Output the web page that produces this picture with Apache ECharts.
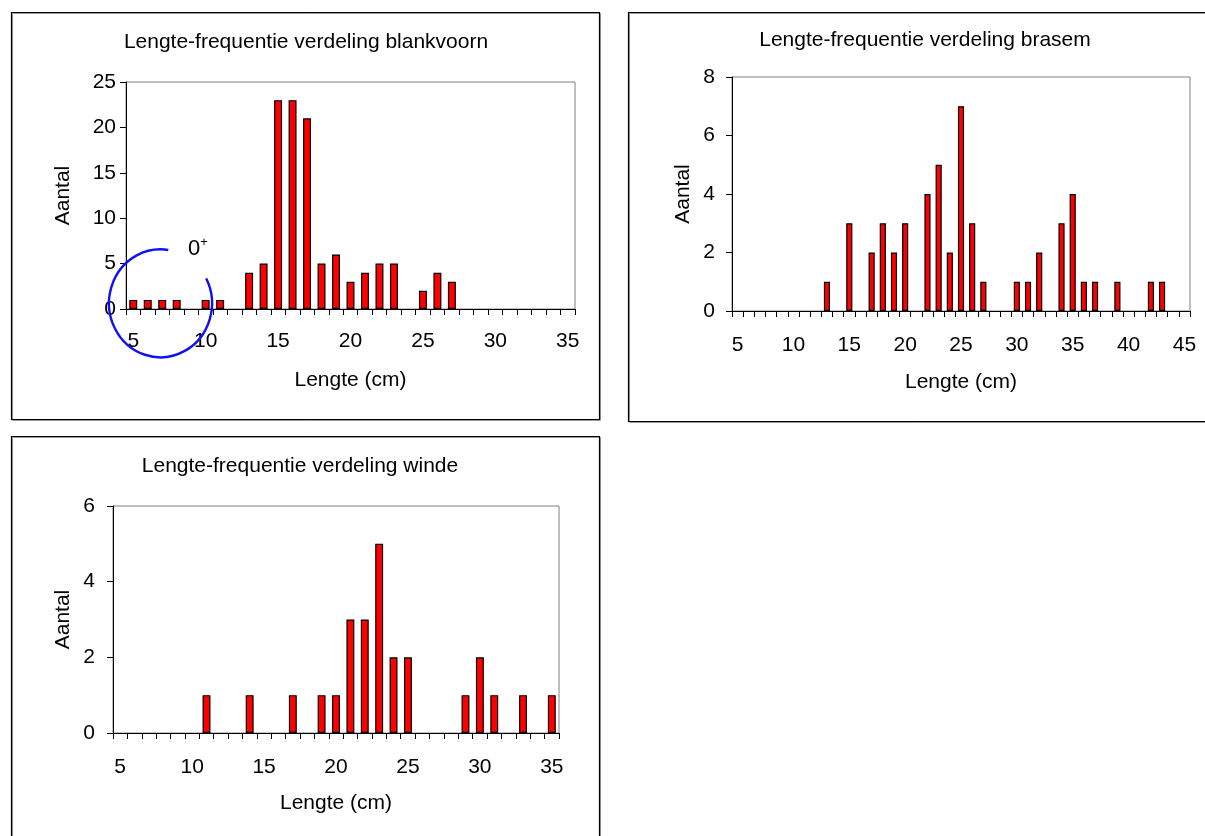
<!DOCTYPE html>
<html>
<head>
<meta charset="utf-8">
<title>Lengte-frequentie verdeling</title>
<script src="https://cdn.jsdelivr.net/npm/echarts@6/dist/echarts.min.js"></script>
<style>
  html, body { margin: 0; padding: 0; background: #fff; }
  #chart { width: 1205px; height: 836px; }
</style>
</head>
<body>
<div id="chart"></div>
<script>
// Lengteklassen (cm) en aantallen per soort
const lengthsBlankvoorn = ['5','6','7','8','9','10','11','12','13','14','15','16','17','18','19','20',
  '21','22','23','24','25','26','27','28','29','30','31','32','33','34','35'];
const countsBlankvoorn = [1,1,1,1,0,1,1,0,4,5,23,23,21,5,6,3,4,5,5,0,2,4,3,0,0,0,0,0,0,0,0];

const lengthsBrasem = ['5','6','7','8','9','10','11','12','13','14','15','16','17','18','19','20',
  '21','22','23','24','25','26','27','28','29','30','31','32','33','34','35','36','37','38','39','40',
  '41','42','43','44','45'];
const countsBrasem = [0,0,0,0,0,0,0,0,1,0,3,0,2,3,2,3,0,4,5,2,7,3,1,0,0,1,1,2,0,3,4,1,1,0,1,0,0,1,1,0,0];

const lengthsWinde = ['5','6','7','8','9','10','11','12','13','14','15','16','17','18','19','20',
  '21','22','23','24','25','26','27','28','29','30','31','32','33','34','35'];
const countsWinde = [0,0,0,0,0,0,1,0,0,1,0,0,1,0,1,1,3,3,5,2,2,0,0,0,1,2,1,0,1,0,1];

const titles = [
  'Lengte-frequentie verdeling blankvoorn',
  'Lengte-frequentie verdeling brasem',
  'Lengte-frequentie verdeling winde'
];
const xAxisTitle = 'Lengte (cm)';
const yAxisTitle = 'Aantal';
const yMax = [25, 8, 6];
const yStep = [5, 2, 2];

const FONT = "'Liberation Sans', Arial, sans-serif";
const FS = 21;

const panels = [
  { grid: { left: 126, top: 82, width: 449, height: 227 }, cats: lengthsBlankvoorn, vals: countsBlankvoorn,
    title: { x: 306, y: 32 }, yLabelMargin: 10, yNameGap: 52, xLabelMargin: 22, xNameGap: 61 },
  { grid: { left: 732, top: 77, width: 458, height: 234 }, cats: lengthsBrasem, vals: countsBrasem,
    title: { x: 925, y: 30 }, yLabelMargin: 17, yNameGap: 38, xLabelMargin: 24, xNameGap: 61 },
  { grid: { left: 113, top: 506, width: 446, height: 227 }, cats: lengthsWinde, vals: countsWinde,
    title: { x: 300, y: 456 }, yLabelMargin: 18, yNameGap: 39, xLabelMargin: 24, xNameGap: 60 }
];

const textStyle = { color: '#000', fontFamily: FONT, fontSize: FS };

const option = {
  animation: false,
  backgroundColor: '#fff',
  textStyle: { fontFamily: FONT },
  title: panels.map((p, i) => ({
    text: titles[i],
    left: p.title.x,
    top: p.title.y,
    textAlign: 'center',
    padding: 0,
    textStyle: { color: '#000', fontFamily: FONT, fontSize: FS, fontWeight: 'normal' }
  })),
  grid: panels.map(p => Object.assign({
    show: true, borderColor: '#808080', borderWidth: 1, backgroundColor: 'transparent', containLabel: false
  }, p.grid)),
  xAxis: panels.map((p, i) => ({
    type: 'category',
    gridIndex: i,
    data: p.cats,
    boundaryGap: true,
    name: xAxisTitle,
    nameLocation: 'middle',
    nameGap: p.xNameGap,
    nameTextStyle: textStyle,
    axisLine: { show: true, lineStyle: { color: '#000', width: 1 } },
    axisTick: { show: true, interval: 0, length: 6, lineStyle: { color: '#000' } },
    axisLabel: Object.assign({ interval: 4, margin: p.xLabelMargin }, textStyle),
    splitLine: { show: false }
  })),
  yAxis: panels.map((p, i) => ({
    type: 'value',
    gridIndex: i,
    min: 0,
    max: yMax[i],
    interval: yStep[i],
    name: yAxisTitle,
    nameLocation: 'middle',
    nameRotate: 90,
    nameGap: p.yNameGap,
    nameTextStyle: textStyle,
    axisLine: { show: true, lineStyle: { color: '#000', width: 1 } },
    axisTick: { show: true, length: 6, lineStyle: { color: '#000' } },
    axisLabel: Object.assign({ margin: p.yLabelMargin }, textStyle),
    splitLine: { show: false }
  })),
  series: panels.map((p, i) => ({
    type: 'bar',
    xAxisIndex: i,
    yAxisIndex: i,
    // lege klassen krijgen geen staaf
    data: p.vals.map(v => (v === 0 ? null : v)),
    barWidth: '55%',
    itemStyle: { color: '#FF0000', borderColor: '#000', borderWidth: 1.2 },
    emphasis: { disabled: true }
  })),
  graphic: [
    // kaders rond de drie grafieken (met lichte schaduw)
    { type: 'rect', z: -2, silent: true, shape: { x: 12.5, y: 13.5, width: 588, height: 407 },
      style: { fill: null, stroke: '#9a9a9a', lineWidth: 1 } },
    { type: 'rect', z: -1, silent: true, shape: { x: 11.5, y: 12.5, width: 588, height: 407 },
      style: { fill: null, stroke: '#000', lineWidth: 1.2 } },
    { type: 'rect', z: -2, silent: true, shape: { x: 629.5, y: 13.5, width: 590, height: 409 },
      style: { fill: null, stroke: '#9a9a9a', lineWidth: 1 } },
    { type: 'rect', z: -1, silent: true, shape: { x: 628.5, y: 12.5, width: 590, height: 409 },
      style: { fill: null, stroke: '#000', lineWidth: 1.2 } },
    { type: 'rect', z: -2, silent: true, shape: { x: 12.5, y: 437.5, width: 588, height: 420 },
      style: { fill: null, stroke: '#9a9a9a', lineWidth: 1 } },
    { type: 'rect', z: -1, silent: true, shape: { x: 11.5, y: 436.5, width: 588, height: 420 },
      style: { fill: null, stroke: '#000', lineWidth: 1.2 } },
    // markering van de 0+ jaarklasse
    { type: 'arc', z: 10, silent: true,
      x: 160.5, y: 303.3, scaleX: 1, scaleY: 54 / 51.5,
      shape: { cx: 0, cy: 0, r: 51.5, startAngle: -27.5 * Math.PI / 180, endAngle: 278.7 * Math.PI / 180, clockwise: true },
      style: { fill: null, stroke: '#1010F0', lineWidth: 2.4 } },
    { type: 'text', z: 10, silent: true, x: 188, y: 236,
      style: { text: '{a|0}{b|+}', fill: '#000', font: FS + 'px ' + FONT,
        rich: { a: { fontSize: 22, fontFamily: FONT, fill: '#000' },
                b: { fontSize: 13, fontFamily: FONT, fill: '#000', verticalAlign: 'top', padding: [0, 0, 12, 0] } } } }
  ]
};

const chart = echarts.init(document.getElementById('chart'), null, { renderer: 'canvas', width: 1205, height: 836 });
chart.setOption(option);
</script>
</body>
</html>
